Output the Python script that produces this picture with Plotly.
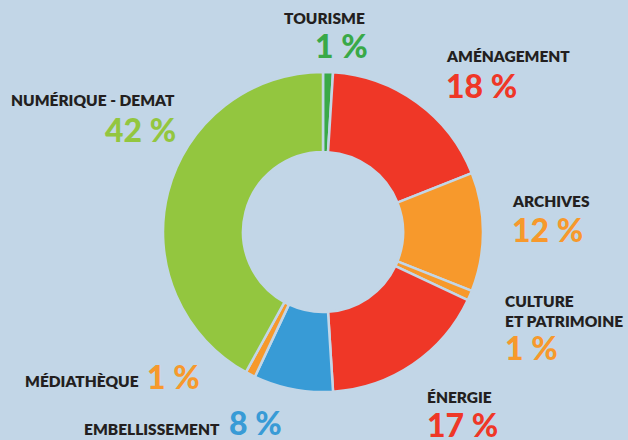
import plotly.graph_objects as go

labels = ["TOURISME", "AMÉNAGEMENT", "ARCHIVES", "CULTURE<br>ET PATRIMOINE",
          "ÉNERGIE", "EMBELLISSEMENT", "MÉDIATHÈQUE", "NUMÉRIQUE - DEMAT"]
values = [1, 18, 12, 1, 17, 8, 1, 42]
colors = ["#39a948", "#ef3727", "#f7992c", "#f7992c",
          "#ef3727", "#389bd6", "#f7992c", "#93c63f"]

BG = "#c2d6e7"
W, H = 628, 440

fig = go.Figure(go.Pie(
    labels=labels, values=values, sort=False, direction="clockwise",
    rotation=0, hole=0.5, textinfo="none", hoverinfo="label+percent",
    marker=dict(colors=colors, line=dict(color=BG, width=2.5)),
    domain=dict(x=[163 / W, 483 / W], y=[1 - 392 / H, 1 - 72 / H]),
))

# label layout: (label x, label y, label anchor, pct x, pct y, pct anchor)
pos = [
    (324, 18, "center", 341, 46, "center"),
    (444, 56, "left", 444, 86, "left"),
    (510, 201, "left", 510, 229, "left"),
    (503, 311, "left", 503, 347, "left"),
    (425, 397, "left", 425, 424, "left"),
    (222, 429, "right", 227, 422, "left"),
    (141, 381, "right", 145, 376, "left"),
    (177, 100, "right", 178, 129, "right"),
]

anns = []
for lab, v, c, (lx, ly, la, px, py, pa) in zip(labels, values, colors, pos):
    anns.append(dict(x=lx / W, y=1 - ly / H, xref="paper", yref="paper",
                     xanchor=la, yanchor="middle", align="left",
                     text=lab, showarrow=False,
                     font=dict(family="Lato", size=15.5, weight=800,
                               color="#231f20")))
    anns.append(dict(x=px / W, y=1 - py / H, xref="paper", yref="paper",
                     xanchor=pa, yanchor="middle",
                     text=f"{v} %", showarrow=False,
                     font=dict(family="Lato", size=32, weight=900, color=c)))

fig.update_layout(
    width=W, height=H, margin=dict(l=0, r=0, t=0, b=0),
    paper_bgcolor=BG, plot_bgcolor=BG, showlegend=False,
    annotations=anns,
)

fig.write_html("out.html", config={"displayModeBar": False},
               post_script="document.body.style.margin='0';"
                           "document.body.style.background='" + BG + "';")
